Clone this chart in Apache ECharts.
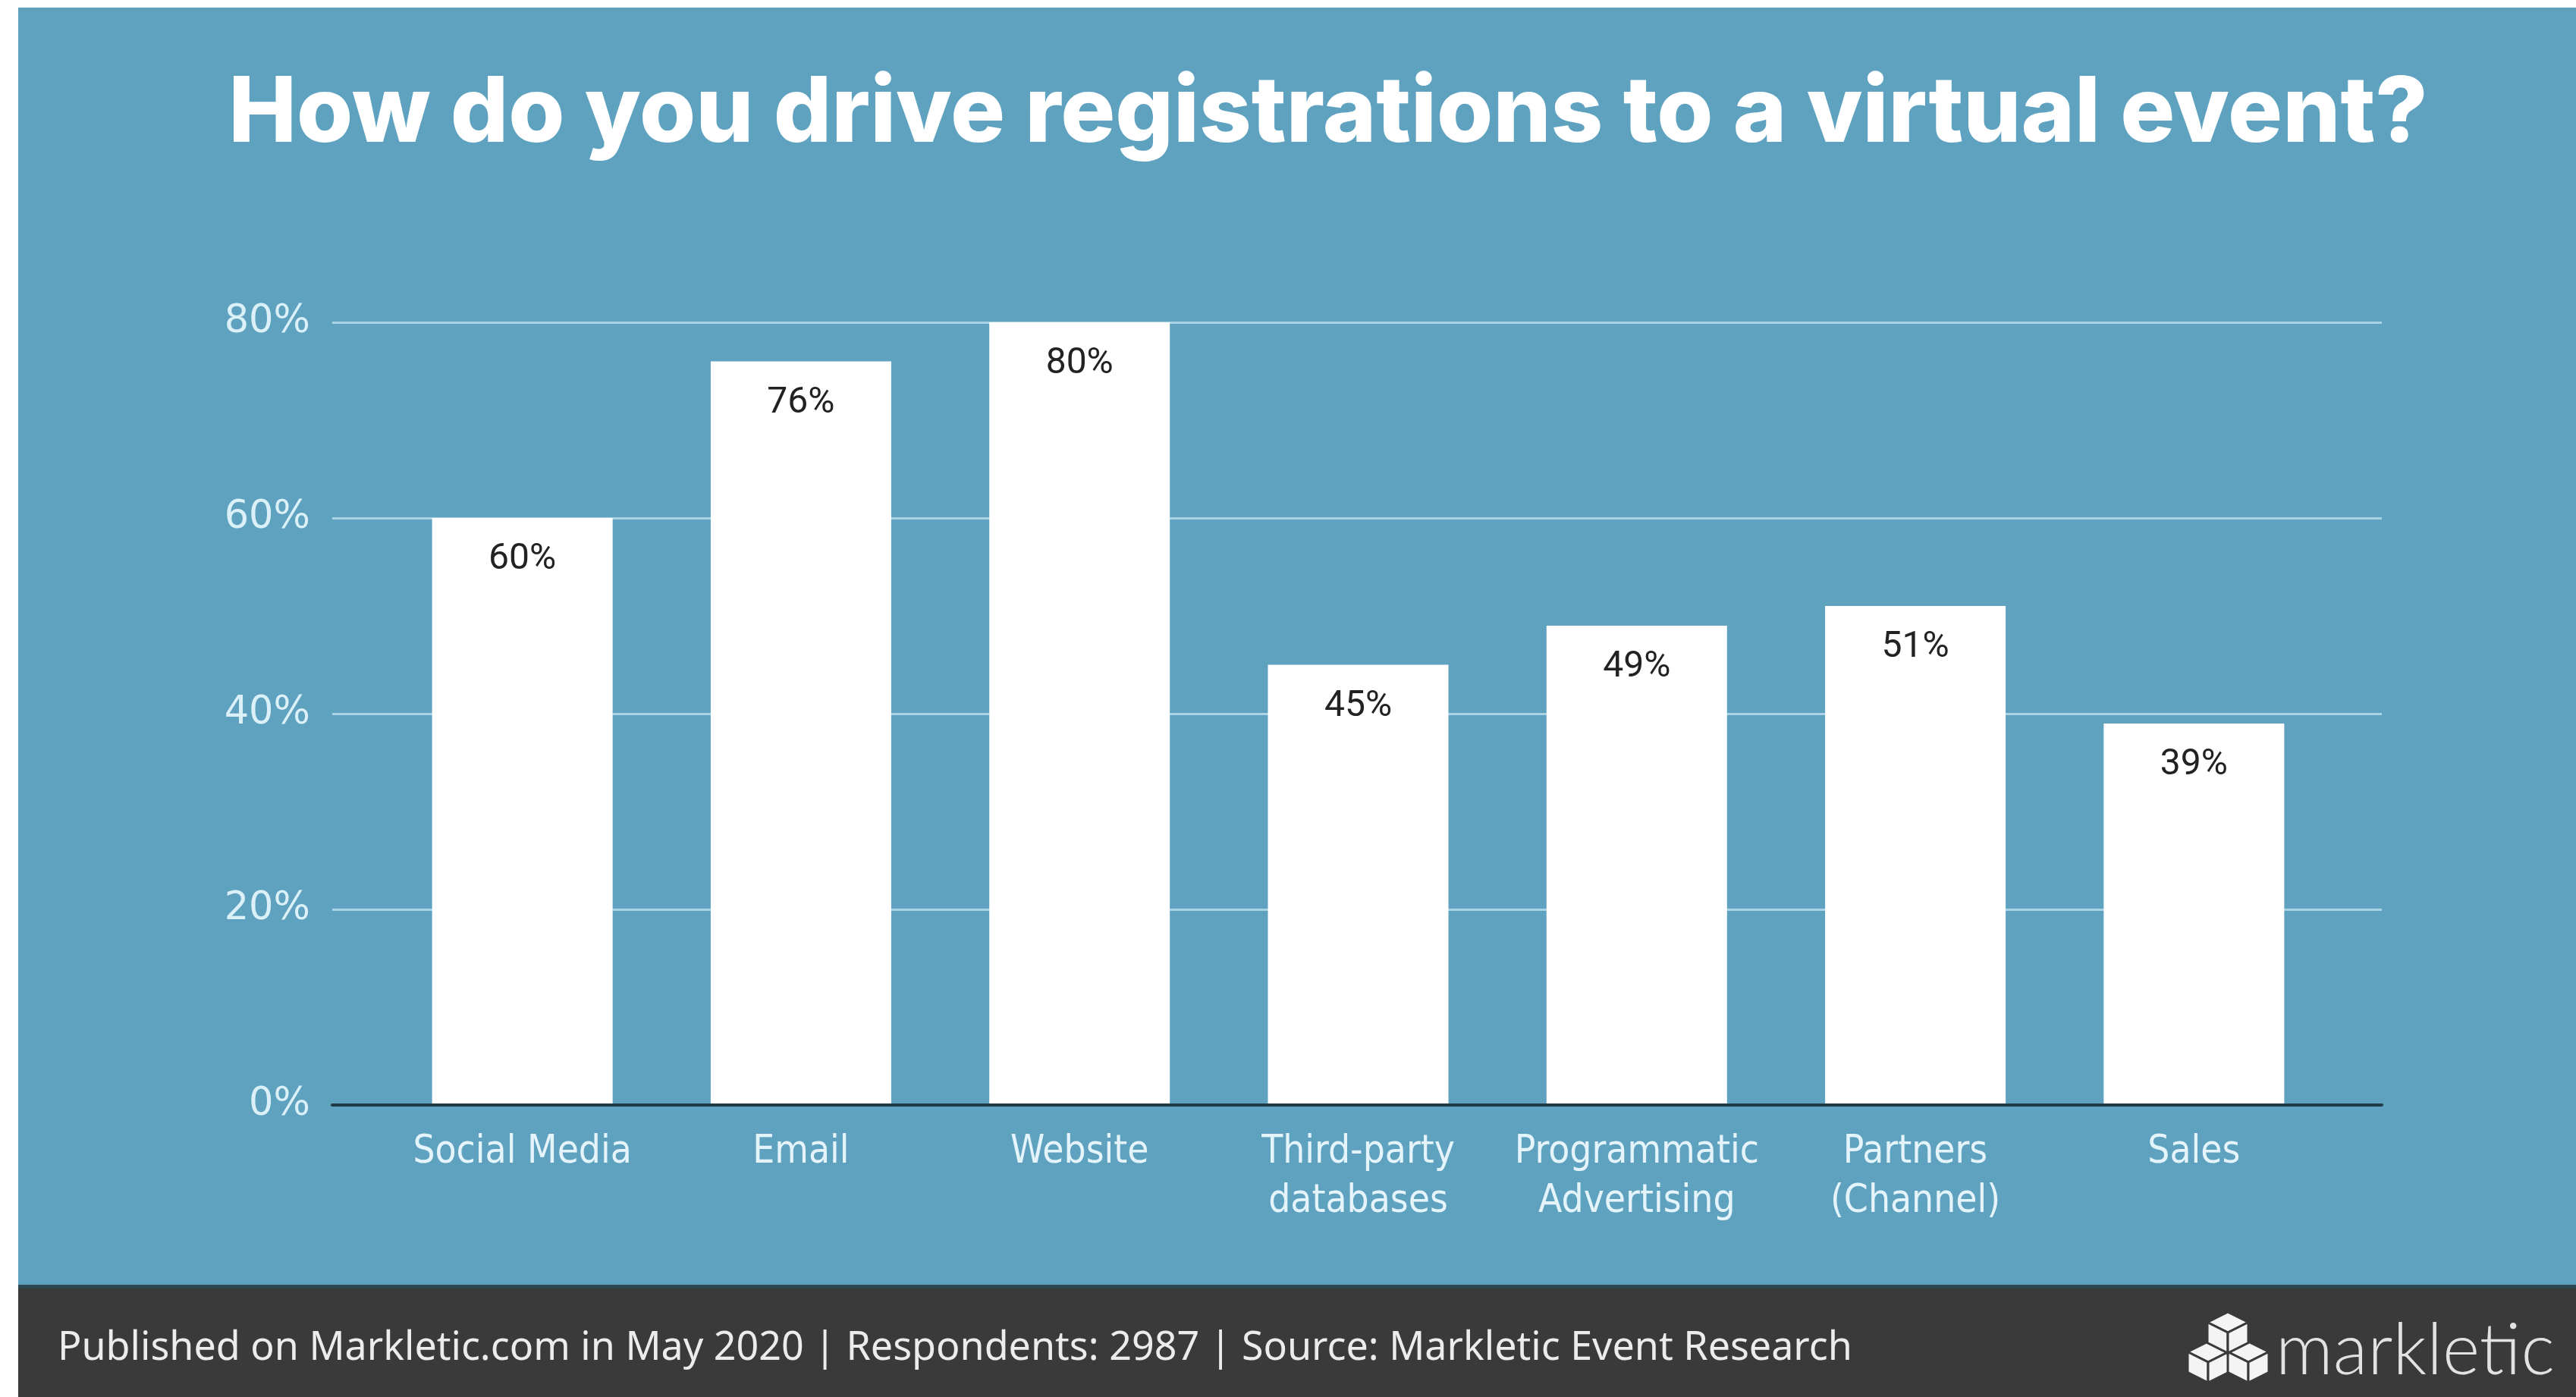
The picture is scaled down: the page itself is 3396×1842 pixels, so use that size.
<!DOCTYPE html>
<html>
<head>
<meta charset="utf-8">
<title>How do you drive registrations to a virtual event?</title>
<script src="https://cdn.jsdelivr.net/npm/echarts@6/dist/echarts.min.js"></script>
<style>
  html, body { margin: 0; padding: 0; background: #ffffff; }
  #chart { width: 3396px; height: 1842px; }
</style>
</head>
<body>
<div id="chart"></div>
<script>
// Survey answers: share of respondents per registration channel
const categories = [
  'Social Media',
  'Email',
  'Website',
  'Third-party\ndatabases',
  'Programmatic\nAdvertising',
  'Partners\n(Channel)',
  'Sales'
];
const shares = [60, 76, 80, 45, 49, 51, 39];

// Value axis ticks (percent)
const yTicks = [0, 20, 40, 60, 80];

const titleText = 'How do you drive registrations to a virtual event?';
const footerText = 'Published on Markletic.com in May 2020 | Respondents: 2987 | Source: Markletic Event Research';
const brandText = 'markletic';

const W = 3396, H = 1842;
const panelColor = '#5ea2c0';
const footerColor = '#3a3a3a';
const footerTop = 1695;

// one isometric cube of the brand mark, as three faces
function cube(cx, cy, r) {
  const s = r * 0.5;
  const top = [cx, cy - r], ur = [cx + r, cy - s], lr = [cx + r, cy + s];
  const bot = [cx, cy + r], ll = [cx - r, cy + s], ul = [cx - r, cy - s];
  const mid = [cx, cy];
  const face = pts => ({
    type: 'polygon',
    shape: { points: pts },
    style: { fill: '#f4f4f4', stroke: footerColor, lineWidth: 3 },
    z: 20
  });
  return [face([top, ur, mid, ul]), face([ul, mid, bot, ll]), face([mid, ur, lr, bot])];
}

const yMin = yTicks[0];
const yMax = yTicks[yTicks.length - 1];
const yStep = yTicks[1] - yTicks[0];

const chart = echarts.init(document.getElementById('chart'), null, { renderer: 'canvas' });

chart.setOption({
  backgroundColor: '#ffffff',
  animation: false,
  title: {
    text: titleText,
    left: 1746,
    top: 86,
    textAlign: 'center',
    textStyle: {
      color: '#ffffff',
      fontFamily: 'Inter',
      fontWeight: 800,
      fontSize: 120
    }
  },
  graphic: [
    {
      type: 'rect',
      shape: { x: 24, y: 10, width: W - 24, height: footerTop - 10 },
      style: { fill: panelColor },
      z: -10
    },
    {
      type: 'rect',
      shape: { x: 24, y: footerTop, width: W - 24, height: H - footerTop },
      style: { fill: footerColor },
      z: -10
    },
    {
      type: 'rect',
      shape: { x: 24, y: footerTop - 1, width: W - 24, height: 5 },
      style: { fill: '#2c4652' },
      z: -9
    },
    {
      type: 'text',
      x: 76,
      y: 1778,
      style: {
        text: footerText,
        fill: '#ececec',
        font: '400 52px "Noto Sans"',
        textVerticalAlign: 'middle'
      },
      z: 20
    },
    {
      type: 'text',
      x: 3000,
      y: 1782,
      style: {
        text: brandText,
        fill: '#e2e2e2',
        font: '300 94px Lato',
        textVerticalAlign: 'middle'
      },
      z: 20
    },
    ...cube(2911, 1796, 27),
    ...cube(2964, 1796, 27),
    ...cube(2937, 1757, 27)
  ],
  grid: [
    // frame carrying the gridlines, value labels and baseline
    { left: 438, right: W - 3140, top: 425, bottom: H - 1457 },
    // frame carrying the bars
    { left: 505, right: W - 3076, top: 425, bottom: H - 1457 }
  ],
  xAxis: [
    {
      gridIndex: 0,
      type: 'value',
      min: 0,
      max: 1,
      z: 5,
      axisLine: { show: true, lineStyle: { color: '#1f3945', width: 4 } },
      axisTick: { show: false },
      axisLabel: { show: false },
      splitLine: { show: false }
    },
    {
      gridIndex: 1,
      type: 'category',
      data: categories,
      axisLine: { show: false },
      axisTick: { show: false },
      axisLabel: {
        margin: 30,
        color: '#e4f4fa',
        fontFamily: '"DejaVu Sans Condensed", "DejaVu Sans"',
        fontSize: 51,
        lineHeight: 65,
        interval: 0
      }
    }
  ],
  yAxis: [
    {
      gridIndex: 0,
      type: 'value',
      min: yMin,
      max: yMax,
      interval: yStep,
      axisLine: { show: false },
      axisTick: { show: false },
      axisLabel: {
        margin: 29,
        color: '#dcf0f8',
        fontFamily: '"DejaVu Sans"',
        fontSize: 51,
        formatter: '{value}%',
        padding: [14, 0, 0, 0]
      },
      splitLine: { show: true, lineStyle: { color: '#a9d2e4', width: 3 } }
    },
    {
      gridIndex: 1,
      type: 'value',
      min: yMin,
      max: yMax,
      interval: yStep,
      show: false
    }
  ],
  series: [
    {
      type: 'bar',
      xAxisIndex: 1,
      yAxisIndex: 1,
      data: shares,
      barWidth: 238,
      itemStyle: { color: '#ffffff' },
      label: {
        show: true,
        position: 'insideTop',
        distance: 31,
        formatter: '{c}%',
        color: '#222222',
        fontFamily: 'Roboto',
        fontSize: 48
      }
    }
  ]
});
</script>
</body>
</html>
